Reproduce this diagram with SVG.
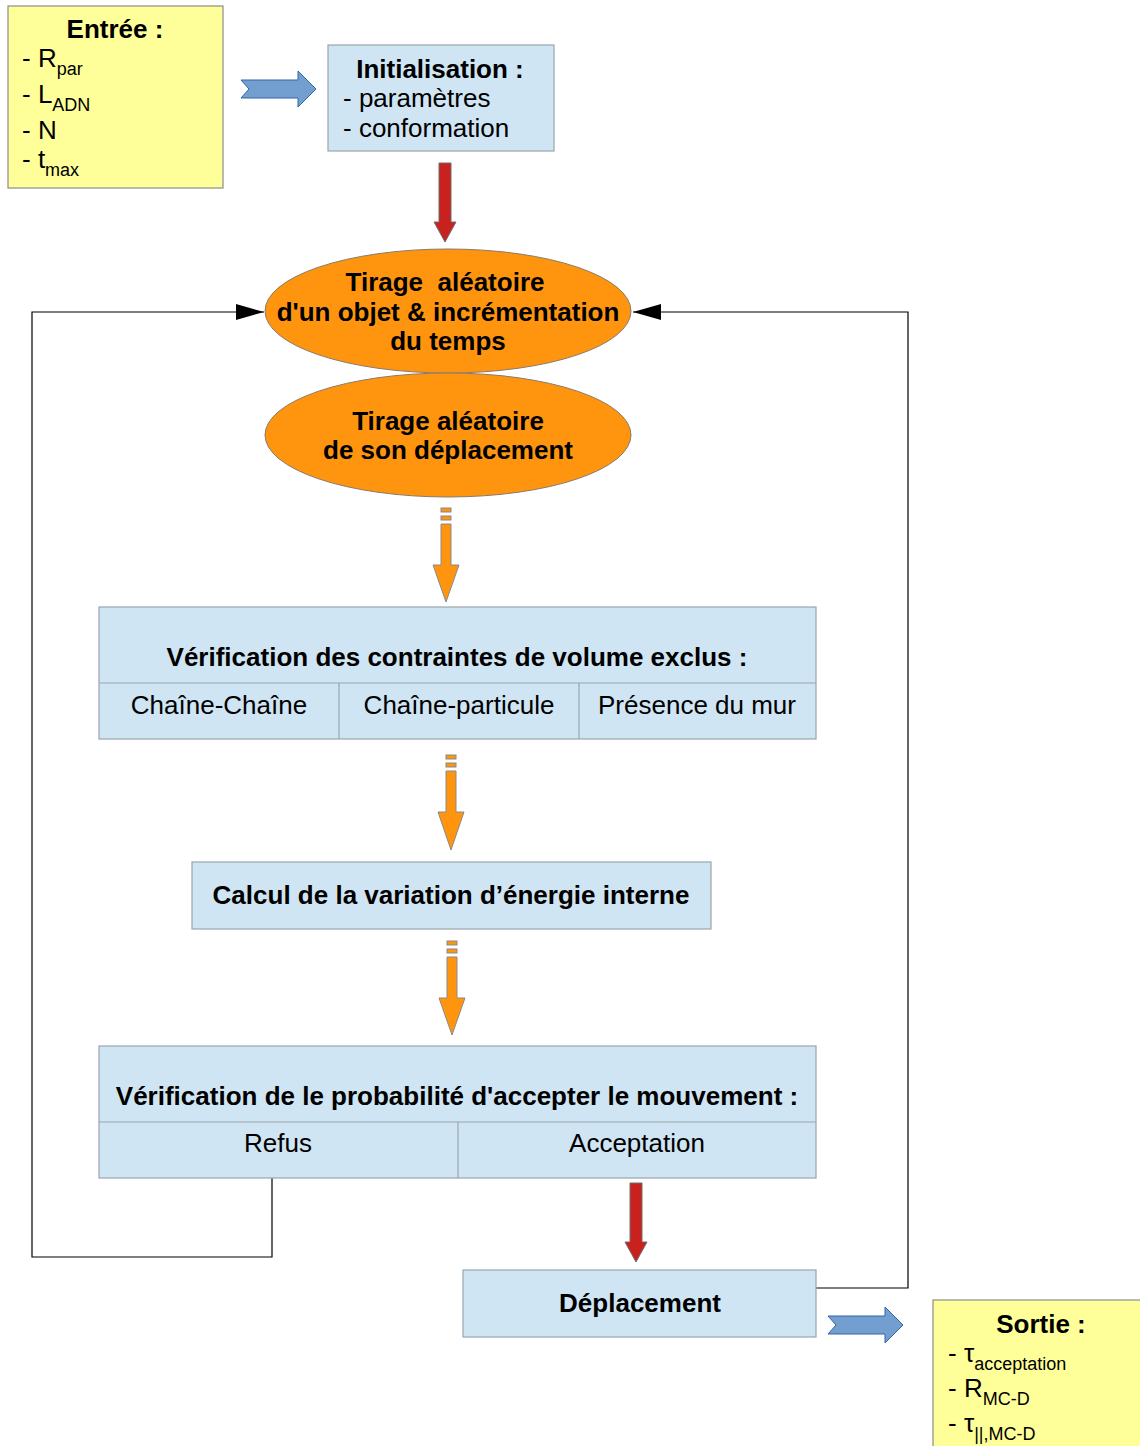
<svg xmlns="http://www.w3.org/2000/svg" width="1140" height="1446" viewBox="0 0 1140 1446">
<style>
text{font-family:"Liberation Sans",Arial,sans-serif;font-size:26px;fill:#000}
.b{font-weight:bold}
.m{text-anchor:middle}
.s{font-size:18px}
.yel{fill:#ffff99;stroke:#8d8d8d;stroke-width:1.2}
.blu{fill:#cfe5f3;stroke:#9aa6ad;stroke-width:1.2}
.ell{fill:#ff950e;stroke:#8a7a6a;stroke-width:1}
.barrow{fill:#729fcf;stroke:#3465a4;stroke-width:1}
.rarrow{fill:#c9211e;stroke:#6e6e6e;stroke-width:1}
.oarrow{fill:#ff950e;stroke:#8a8a8a;stroke-width:1}
.line{fill:none;stroke:#000;stroke-width:1.2}
</style>
<defs>
<marker id="ah" markerWidth="28" markerHeight="16" refX="28" refY="8" orient="auto" markerUnits="userSpaceOnUse">
<path d="M0,0 L28,8 L0,16 Z" fill="#000"/>
</marker>
</defs>

<g id="connectors">
<polyline class="line" points="272,1178 272,1257 32,1257 32,312 264,312" marker-end="url(#ah)"/>
<polyline class="line" points="816,1288 908,1288 908,312 633,312" marker-end="url(#ah)"/>
<path class="barrow" d="M241,80 L298,80 L298,71 L316,89 L298,107 L298,98 L241,98 L249,89 Z"/>
<path class="rarrow" d="M439,163 L451,163 L451,222 L456,222 L445,242 L434,222 L439,222 Z"/>
<g class="oarrow">
<rect x="441" y="508" width="10" height="4"/>
<rect x="441" y="516" width="10" height="4"/>
<path d="M441,524 L451,524 L451,565 L459,565 L446,602 L433,565 L441,565 Z"/>
</g>
<g class="oarrow">
<rect x="446" y="755" width="10" height="4"/>
<rect x="446" y="763" width="10" height="4"/>
<path d="M446,771 L456,771 L456,812 L464,812 L451,850 L438,812 L446,812 Z"/>
</g>
<g class="oarrow">
<rect x="447" y="941" width="10" height="4"/>
<rect x="447" y="949" width="10" height="4"/>
<path d="M447,957 L457,957 L457,998 L465,998 L452,1035 L439,998 L447,998 Z"/>
</g>
<path class="rarrow" d="M630,1183 L642,1183 L642,1242 L647,1242 L636,1262 L625,1242 L630,1242 Z"/>
<path class="barrow" d="M828,1316 L885,1316 L885,1307 L903,1325 L885,1343 L885,1334 L828,1334 L836,1325 Z"/>
</g>

<g id="entree">
<rect class="yel" x="8" y="6" width="215" height="182"/>
<text class="b m" x="115" y="38">Entrée :</text>
<text x="22" y="67">- R<tspan class="s" dy="8">par</tspan></text>
<text x="22" y="103">- L<tspan class="s" dy="8">ADN</tspan></text>
<text x="22" y="139">- N</text>
<text x="22" y="168">- t<tspan class="s" dy="8">max</tspan></text>
</g>

<g id="init">
<rect class="blu" x="328" y="45" width="226" height="106"/>
<text class="b m" x="440" y="78">Initialisation :</text>
<text x="343" y="107">- paramètres</text>
<text x="343" y="137">- conformation</text>
</g>

<g id="tirage1">
<ellipse class="ell" cx="448" cy="311" rx="183" ry="62"/>
<text class="b m" x="445" y="291" xml:space="preserve">Tirage  aléatoire</text>
<text class="b m" x="448" y="321">d'un objet &amp; incrémentation</text>
<text class="b m" x="448" y="350">du temps</text>
</g>

<g id="tirage2">
<ellipse class="ell" cx="448" cy="435" rx="183" ry="62"/>
<text class="b m" x="448" y="430">Tirage aléatoire</text>
<text class="b m" x="448" y="459">de son déplacement</text>
</g>

<g id="verif1">
<rect class="blu" x="99" y="607" width="717" height="132"/>
<line class="blu" x1="99" y1="683" x2="816" y2="683"/>
<line class="blu" x1="339" y1="683" x2="339" y2="739"/>
<line class="blu" x1="579" y1="683" x2="579" y2="739"/>
<text class="b m" x="457" y="666">Vérification des contraintes de volume exclus :</text>
<text class="m" x="219" y="714">Chaîne-Chaîne</text>
<text class="m" x="459" y="714">Chaîne-particule</text>
<text class="m" x="697" y="714">Présence du mur</text>
</g>

<g id="calcul">
<rect class="blu" x="192" y="862" width="519" height="67"/>
<text class="b m" x="451" y="904">Calcul de la variation d’énergie interne</text>
</g>

<g id="verif2">
<rect class="blu" x="99" y="1046" width="717" height="132"/>
<line class="blu" x1="99" y1="1122" x2="816" y2="1122"/>
<line class="blu" x1="458" y1="1122" x2="458" y2="1178"/>
<text class="b m" x="457" y="1105">Vérification de le probabilité d'accepter le mouvement :</text>
<text class="m" x="278" y="1152">Refus</text>
<text class="m" x="637" y="1152">Acceptation</text>
</g>

<g id="deplacement">
<rect class="blu" x="463" y="1270" width="353" height="67"/>
<text class="b m" x="640" y="1312">Déplacement</text>
</g>

<g id="sortie">
<rect class="yel" x="933" y="1300" width="215" height="160"/>
<text class="b m" x="1041" y="1333">Sortie :</text>
<text x="948" y="1362">- τ<tspan class="s" dy="8">acceptation</tspan></text>
<text x="948" y="1397">- R<tspan class="s" dy="8">MC-D</tspan></text>
<text x="948" y="1432">- τ<tspan class="s" dy="8">||,MC-D</tspan></text>
</g>
</svg>
